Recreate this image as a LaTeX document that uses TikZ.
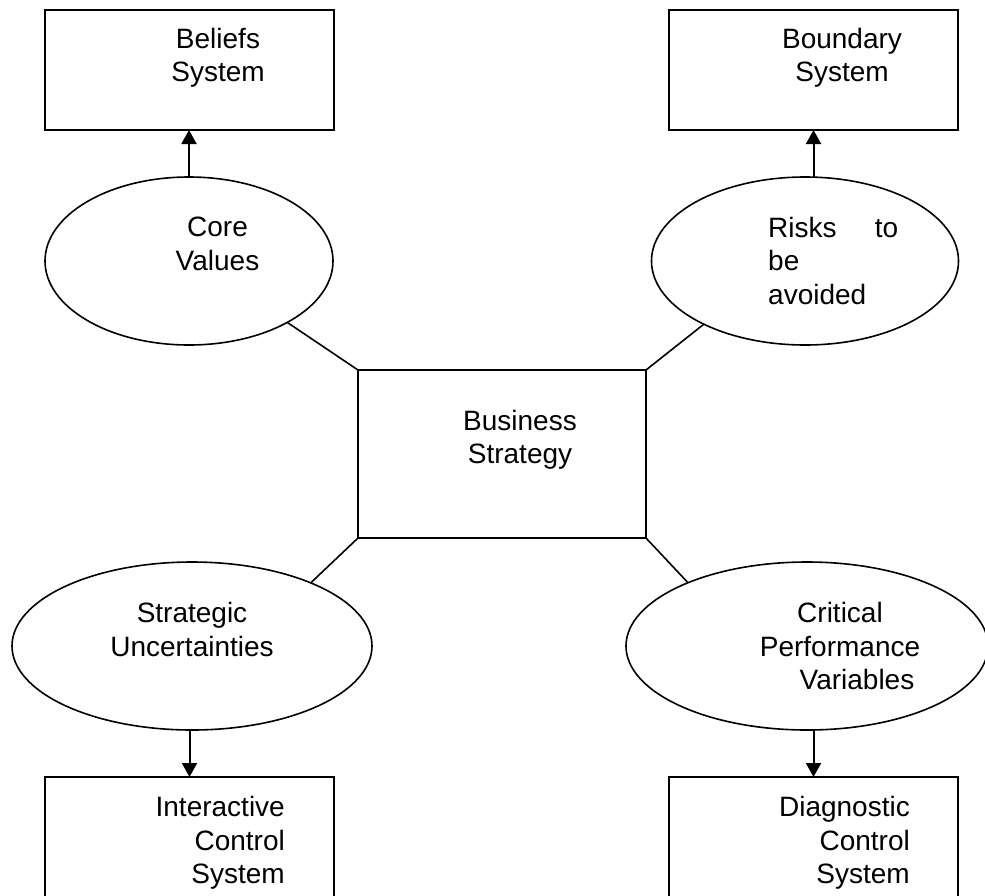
\documentclass[tikz,border=0pt]{standalone}
\usepackage{fontspec}
\setmainfont{Liberation Sans}
\usetikzlibrary{arrows.meta,shapes.geometric,calc}
\tikzset{
  cadre/.style={draw,line width=2pt,minimum width=289pt,minimum height=120pt,
                inner sep=0pt,outer sep=0pt},
  bulle/.style={draw,ellipse,line width=1.6pt,minimum height=168pt,
                inner sep=0pt,outer sep=0pt},
  texte/.style={inner sep=0pt,font=\fontsize{28}{33.5}\selectfont},
  fleche/.style={-{Triangle[length=14pt,width=15pt]},line width=2pt},
  lien/.style={line width=1.6pt},
}

\begin{document}
\begin{tikzpicture}[x=1pt,y=-1pt]
  \useasboundingbox (0,0) rectangle (985,895);
  \node[cadre] (bel) at (189.5,70) {};
  \node[cadre] (bnd) at (813.5,70) {};
  \node[cadre,minimum width=288pt,minimum height=168pt] (bs) at (502,454) {};
  \node[cadre,minimum height=140pt] (ics) at (189.5,847) {};
  \node[cadre,minimum height=140pt] (dcs) at (813.5,847) {};
  \node[bulle,minimum width=288pt] (cv) at (189,261) {};
  \node[bulle,minimum width=307pt] (rk) at (805,261) {};
  \node[bulle,minimum width=360pt] (su) at (192,646) {};
  \node[bulle,minimum width=362pt] (cp) at (807,646) {};
  \node[texte,anchor=north,align=center] (bel-t) at (218,28) {Beliefs\\System};
  \node[texte,anchor=north,align=center] (bnd-t) at (842,28) {Boundary\\System};
  \node[texte,anchor=north,align=center] (cv-t) at (217.5,217) {Core\\Values};
  \node[texte,anchor=north west,align=left] (rk-t) at (768,217) {\makebox[130pt][s]{Risks\hfill to}\\be\\avoided};
  \node[texte,anchor=north,align=center] (bs-t) at (520,410) {Business\\Strategy};
  \node[texte,anchor=north,align=center] (su-t) at (192,602) {Strategic\\Uncertainties};
  \node[texte,anchor=north,align=center] (cp-t) at (840,602) {Critical\\Performance\\\hspace*{34pt}Variables};
  \node[texte,anchor=north east,align=right] (ics-t) at (285,796) {Interactive\\Control\\System};
  \node[texte,anchor=north east,align=right] (dcs-t) at (910,796) {Diagnostic\\Control\\System};
  \draw[fleche] (cv.north) -- (cv.north |- bel.south);
  \draw[fleche] (rk.north -| bnd.south) -- (bnd.south);
  \draw[fleche] (su.south -| ics.north) -- (ics.north);
  \draw[fleche] (cp.south -| dcs.north) -- (dcs.north);
  \draw[lien] (cv.-32) -- (bs.north west);
  \draw[lien] (rk.212) -- (bs.north east);
  \draw[lien] (su.28) -- (bs.south west);
  \draw[lien] (cp.152) -- (bs.south east);
\end{tikzpicture}
\end{document}
